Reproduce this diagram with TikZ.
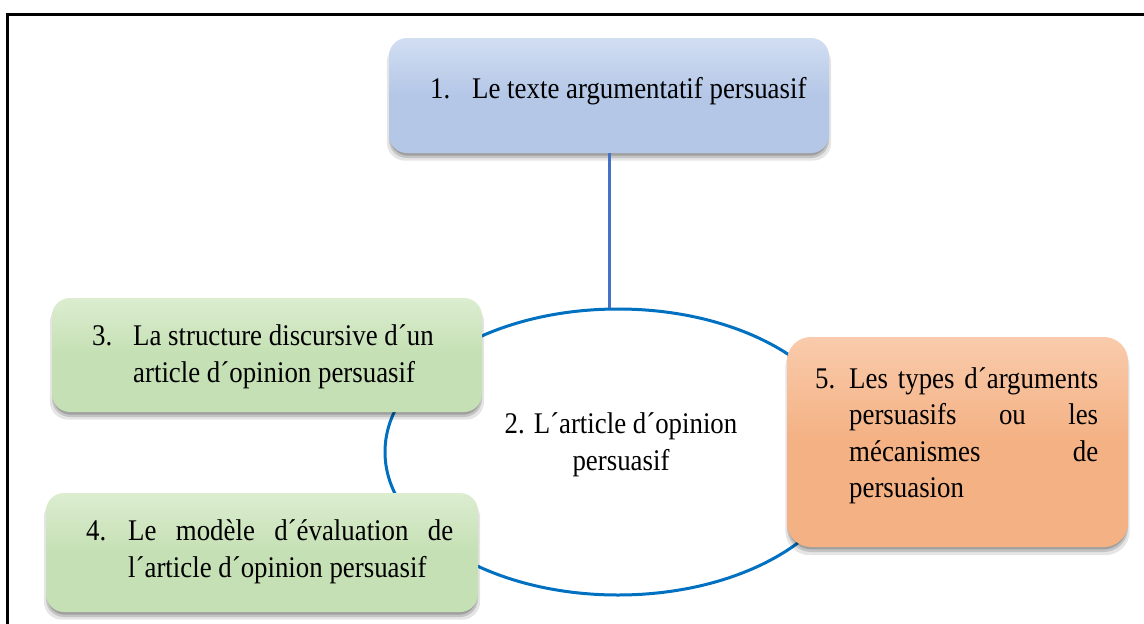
\documentclass[tikz,border=0pt]{standalone}
\usepackage{fontspec}
\setmainfont[FakeStretch=0.895]{Liberation Serif}
\usetikzlibrary{shapes.geometric,shadows}
\definecolor{bluefill}{RGB}{180,199,231}
\definecolor{bluetop}{RGB}{210,222,242}
\definecolor{greenfill}{RGB}{197,224,180}
\definecolor{greentop}{RGB}{220,237,208}
\definecolor{orangefill}{RGB}{244,177,131}
\definecolor{orangetop}{RGB}{249,203,172}
\definecolor{ringblue}{RGB}{0,112,192}
\definecolor{stemblue}{RGB}{68,114,196}
\tikzset{
  boxbase/.style={rounded corners=18pt, inner sep=0pt,
    drop shadow={shadow xshift=0pt, shadow yshift=-7pt, shadow scale=1.01, opacity=0.10, fill=black},
    drop shadow={shadow xshift=0pt, shadow yshift=-5pt, shadow scale=1.0, opacity=0.14, fill=black},
    drop shadow={shadow xshift=0pt, shadow yshift=-3pt, shadow scale=0.995, opacity=0.18, fill=black}},
  bluebox/.style={boxbase, top color=bluetop, bottom color=bluefill, middle color=bluefill},
  greenbox/.style={boxbase, top color=greentop, bottom color=greenfill, middle color=greenfill},
  orangebox/.style={boxbase, rounded corners=24pt, top color=orangetop, bottom color=orangefill, middle color=orangefill},
  txt/.style={inner sep=0pt, anchor=base west, font=\fontsize{30}{36}\selectfont},
  ctxt/.style={inner sep=0pt, anchor=base, font=\fontsize{30}{36}\selectfont},
  ring/.style={draw=ringblue, line width=3pt, ellipse, inner sep=0pt},
  stem/.style={draw=stemblue, line width=3pt},
}
\begin{document}
\begin{tikzpicture}[x=1pt,y=-1pt]
\useasboundingbox (0,0) rectangle (1144,624);
\fill[white] (0,0) rectangle (1144,624);
% frame (left and top edges)
\draw[line width=3pt] (7.5,624) -- (7.5,14) -- (1144,14);
% ring
\node[ring, minimum width=466pt, minimum height=286pt] (el) at (618,452) {};
% boxes
\node[bluebox, minimum width=440pt, minimum height=115pt] (b1) at (609,95.5) {};
\draw[stem] (b1.south) -- (b1.south |- el.north);
\node[greenbox, minimum width=430pt, minimum height=114pt] (b3) at (267,355) {};
\node[greenbox, minimum width=432pt, minimum height=119pt] (b4) at (262,552.5) {};
\node[orangebox, minimum width=341pt, minimum height=210pt] (b5) at (957.5,442) {};
% texts
\node[txt] (t1) at (430,98) {\makebox[42pt][l]{1.}Le texte argumentatif persuasif};
\node[ctxt] (t2a) at (621,433) {2. L´article d´opinion};
\node[ctxt] (t2b) at (621,470) {persuasif};
\node[txt] (t3a) at (92,345) {\makebox[41pt][l]{3.}La structure discursive d´un};
\node[txt] (t3b) at (133,382) {article d´opinion persuasif};
\node[txt] (t4a) at (86,540) {\makebox[42pt][l]{4.}\makebox[325pt][s]{Le modèle d´évaluation de}};
\node[txt] (t4b) at (128,577) {l´article d´opinion persuasif};
\node[txt] (t5a) at (815,388) {\makebox[34pt][l]{5.}\makebox[249pt][s]{Les types d´arguments}};
\node[txt] (t5b) at (849,424) {\makebox[249pt][s]{persuasifs ou les}};
\node[txt] (t5c) at (849,461) {\makebox[249pt][s]{mécanismes de}};
\node[txt] (t5d) at (849,497) {persuasion};
\end{tikzpicture}
\end{document}
